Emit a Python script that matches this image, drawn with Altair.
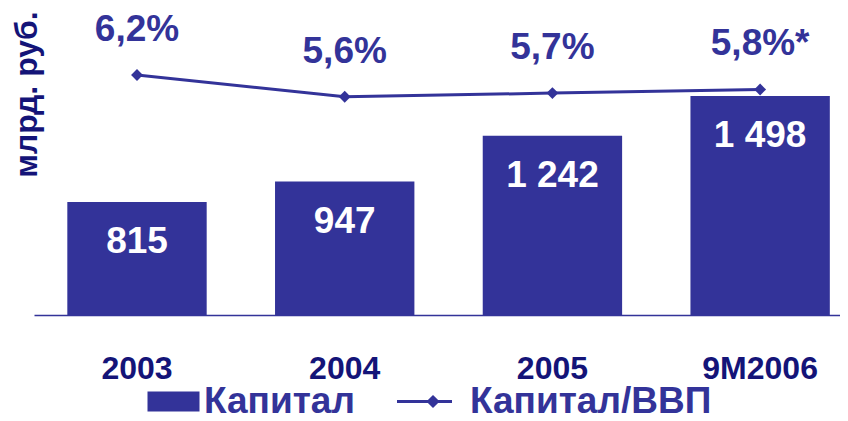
import altair as alt
import pandas as pd

categories = ["2003", "2004", "2005", "9M2006"]
capital = [815, 947, 1242, 1498]
capital_labels = ["815", "947", "1 242", "1 498"]
ratio = [6.2, 5.6, 5.7, 5.8]
ratio_labels = ["6,2%", "5,6%", "5,7%", "5,8%*"]
bar_series = "Капитал"
line_series = "Капитал/ВВП"
y_title = "млрд. руб."

df = pd.DataFrame({
    "year": categories,
    "capital": capital,
    "cap_label": capital_labels,
    "ratio": ratio,
    "ratio_label": ratio_labels,
    "s_bar": bar_series,
    "s_line": line_series,
})

BLUE = "#333399"
NAVY = "#141478"
FONT = "Liberation Sans"
BAR_MIN = 86

x = alt.X(
    "year:N", sort=categories,
    scale=alt.Scale(paddingInner=0.329, paddingOuter=0.1047, align=0.766),
    axis=alt.Axis(title=None, labelAngle=0, labelFont=FONT, labelFontSize=32,
                  labelFontWeight="bold", labelColor=NAVY, labelBaseline="alphabetic",
                  labelPadding=63, ticks=False, tickSize=0, domainColor=BLUE,
                  domainWidth=1.5, grid=False),
)

ybar_scale = alt.Scale(domain=[BAR_MIN, 2066], zero=False, nice=False)
yline_scale = alt.Scale(domain=[-0.43, 8.051], zero=False, nice=False)

ybar_axis = alt.Axis(title=y_title, orient="left", labels=False, ticks=False, domain=False,
                     grid=False, titleFont=FONT, titleFontSize=32, titleFontWeight="bold",
                     titleColor=NAVY, titleAngle=270, titleX=2, titleY=86,
                     titleAlign="center", titleBaseline="alphabetic")

base = alt.Chart(df)

bars = base.mark_bar(color=BLUE).encode(
    x=x,
    y=alt.Y("capital:Q", scale=ybar_scale, axis=ybar_axis),
    y2=alt.datum(BAR_MIN),
    fill=alt.Fill("s_bar:N", scale=alt.Scale(domain=[bar_series], range=[BLUE]),
                  legend=alt.Legend(title=None, orient="none", legendX=121, legendY=375,
                                    symbolType="M-2.6,-1H2.6V1H-2.6Z", symbolSize=400,
                                    symbolStrokeWidth=0, labelFont=FONT, labelFontSize=37,
                                    labelFontWeight="bold", labelColor=BLUE, labelOffset=12,
                                    labelLimit=400, padding=0)),
)

bar_text = base.mark_text(color="white", font=FONT, fontSize=37, fontWeight="bold",
                          baseline="alphabetic", dy=51).encode(
    x=x,
    y=alt.Y("capital:Q", scale=ybar_scale, axis=ybar_axis),
    text="cap_label:N",
)

line = base.mark_line(strokeWidth=3).encode(
    x=x,
    y=alt.Y("ratio:Q", scale=yline_scale, axis=None),
    stroke=alt.Stroke("s_line:N", scale=alt.Scale(domain=[line_series], range=[BLUE]),
                      legend=alt.Legend(title=None, orient="none", legendX=372, legendY=375,
                                        symbolType="M-2.75,0H2.75M0.85,-0.45L1.3,0L0.85,0.45L0.4,0Z",
                                        symbolSize=400, symbolStrokeWidth=3,
                                        symbolFillColor=BLUE, labelFont=FONT, labelFontSize=37,
                                        labelFontWeight="bold", labelColor=BLUE, labelOffset=27,
                                        labelLimit=400, padding=0)),
)

pts = base.mark_point(shape="diamond", filled=True, size=140, color=BLUE, opacity=1).encode(
    x=x,
    y=alt.Y("ratio:Q", scale=yline_scale, axis=None),
)

pct_text = base.mark_text(color=BLUE, font=FONT, fontSize=37, fontWeight="bold",
                          baseline="alphabetic", dy=-34).encode(
    x=x,
    y=alt.Y("ratio:Q", scale=yline_scale, axis=None),
    text="ratio_label:N",
)

left = alt.layer(bars, bar_text)
right = alt.layer(line, pts, pct_text)

chart = alt.layer(left, right).resolve_scale(y="independent").properties(
    width=806, height=307,
    background="white",
    autosize=alt.AutoSizeParams(type="none"),
    padding={"left": 26, "top": 0, "right": 0, "bottom": 98},
).configure_view(stroke=None)

chart.save("out.html", embed_options={"renderer": "svg", "actions": False})
